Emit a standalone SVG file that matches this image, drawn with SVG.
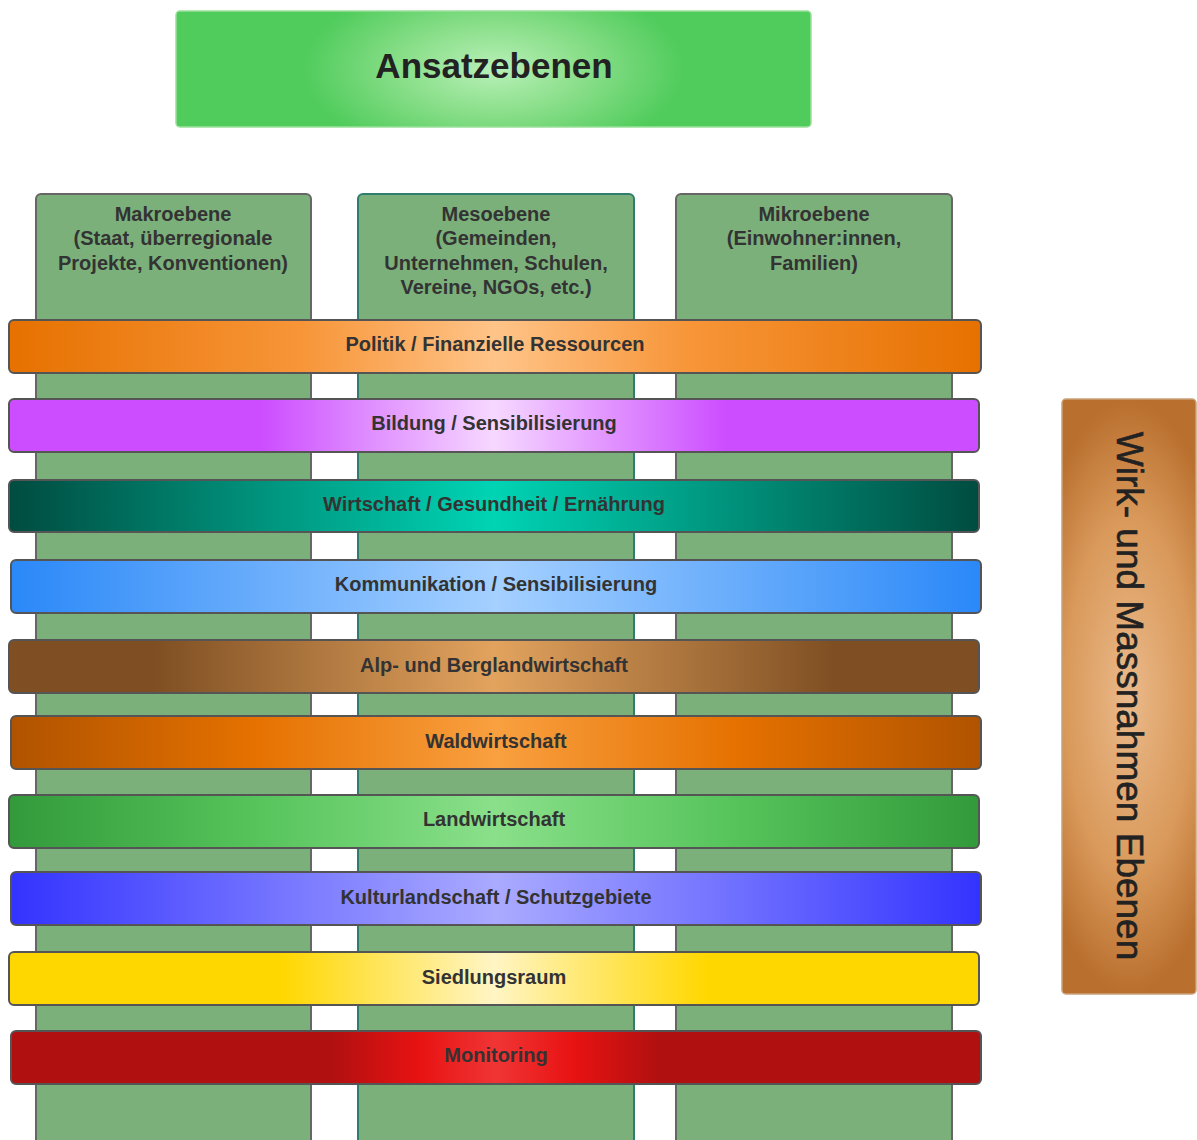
<svg xmlns="http://www.w3.org/2000/svg" width="1197" height="1140" viewBox="0 0 1197 1140">
<defs>
<style>
.col{fill:#7bb07b;stroke:#666;stroke-width:2}
.col2{fill:#7bb07b;stroke:#2e7d6e;stroke-width:2}
.band{stroke:#555;stroke-width:2}
.hd{font-family:"Liberation Sans",Arial,sans-serif;font-weight:bold;font-size:20px;fill:#333;text-anchor:middle}
.bt{font-family:"Liberation Sans",Arial,sans-serif;font-weight:bold;font-size:20px;fill:#333;text-anchor:middle}
</style>
<radialGradient id="gTop" cx="0.5" cy="0.5" r="0.5" gradientTransform="translate(0.5 0.5) scale(0.6 1.6) translate(-0.5 -0.5)">
<stop offset="0" stop-color="#b8f0b8"/><stop offset="0.5" stop-color="#88de88"/><stop offset="1" stop-color="#50cc5c"/>
</radialGradient>
<radialGradient id="gRight" cx="0.5" cy="0.5" r="0.5" gradientTransform="translate(0.5 0.5) scale(1.6 1) translate(-0.5 -0.5)">
<stop offset="0" stop-color="#eab98a"/><stop offset="0.6" stop-color="#d9995a"/><stop offset="1" stop-color="#b96f2e"/>
</radialGradient>
<linearGradient id="g1"><stop offset="0" stop-color="#e67100"/><stop offset="0.3" stop-color="#f79538"/><stop offset="0.5" stop-color="#ffc489"/><stop offset="0.7" stop-color="#f79538"/><stop offset="1" stop-color="#e67100"/></linearGradient>
<linearGradient id="g2"><stop offset="0" stop-color="#cc4dff"/><stop offset="0.26" stop-color="#cc4dff"/><stop offset="0.5" stop-color="#f6d8ff"/><stop offset="0.74" stop-color="#cc4dff"/><stop offset="1" stop-color="#cc4dff"/></linearGradient>
<linearGradient id="g3"><stop offset="0" stop-color="#004c40"/><stop offset="0.5" stop-color="#00d4b4"/><stop offset="1" stop-color="#004c40"/></linearGradient>
<linearGradient id="g4"><stop offset="0" stop-color="#2a88f8"/><stop offset="0.5" stop-color="#a5d0ff"/><stop offset="1" stop-color="#2a88f8"/></linearGradient>
<linearGradient id="g5"><stop offset="0" stop-color="#7f4f23"/><stop offset="0.15" stop-color="#7f4f23"/><stop offset="0.5" stop-color="#e2a35e"/><stop offset="0.85" stop-color="#7f4f23"/><stop offset="1" stop-color="#7f4f23"/></linearGradient>
<linearGradient id="g6"><stop offset="0" stop-color="#b05300"/><stop offset="0.25" stop-color="#e57100"/><stop offset="0.5" stop-color="#f9a040"/><stop offset="0.75" stop-color="#e57100"/><stop offset="1" stop-color="#b05300"/></linearGradient>
<linearGradient id="g7"><stop offset="0" stop-color="#339a3b"/><stop offset="0.25" stop-color="#55c35a"/><stop offset="0.5" stop-color="#8ae08a"/><stop offset="0.75" stop-color="#55c35a"/><stop offset="1" stop-color="#339a3b"/></linearGradient>
<linearGradient id="g8"><stop offset="0" stop-color="#3333ff"/><stop offset="0.5" stop-color="#aaaaff"/><stop offset="1" stop-color="#3333ff"/></linearGradient>
<linearGradient id="g9"><stop offset="0" stop-color="#ffd700"/><stop offset="0.28" stop-color="#ffd700"/><stop offset="0.5" stop-color="#fff5c4"/><stop offset="0.72" stop-color="#ffd700"/><stop offset="1" stop-color="#ffd700"/></linearGradient>
<linearGradient id="g10"><stop offset="0" stop-color="#b01010"/><stop offset="0.33" stop-color="#b01010"/><stop offset="0.42" stop-color="#e81212"/><stop offset="0.5" stop-color="#f03535"/><stop offset="0.58" stop-color="#e81212"/><stop offset="0.67" stop-color="#b01010"/><stop offset="1" stop-color="#b01010"/></linearGradient>
</defs>

<g id="title">
<rect x="176" y="11" width="635" height="116" rx="4" fill="url(#gTop)" stroke="#9be09b" stroke-width="1.5"/>
<text x="494" y="78" font-family="Liberation Sans,Arial,sans-serif" font-weight="bold" font-size="35" fill="#222" text-anchor="middle">Ansatzebenen</text>
</g>

<g id="col-makro">
<rect class="col" x="36" y="194" width="275" height="960" rx="5"/>
<text class="hd" x="173" y="221">Makroebene</text>
<text class="hd" x="173" y="245">(Staat, überregionale</text>
<text class="hd" x="173" y="270">Projekte, Konventionen)</text>
</g>
<g id="col-meso">
<rect class="col2" x="358" y="194" width="276" height="960" rx="5"/>
<text class="hd" x="496" y="221">Mesoebene</text>
<text class="hd" x="496" y="245">(Gemeinden,</text>
<text class="hd" x="496" y="270">Unternehmen, Schulen,</text>
<text class="hd" x="496" y="294">Vereine, NGOs, etc.)</text>
</g>
<g id="col-mikro">
<rect class="col" x="676" y="194" width="276" height="960" rx="5"/>
<text class="hd" x="814" y="221">Mikroebene</text>
<text class="hd" x="814" y="245">(Einwohner:innen,</text>
<text class="hd" x="814" y="270">Familien)</text>
</g>

<g id="connectors"></g>

<g id="band-politik"><rect class="band" x="9" y="320" width="972" height="53" rx="5" fill="url(#g1)"/><text class="bt" x="495" y="351">Politik / Finanzielle Ressourcen</text></g>
<g id="band-bildung"><rect class="band" x="9" y="399" width="970" height="53" rx="5" fill="url(#g2)"/><text class="bt" x="494" y="430">Bildung / Sensibilisierung</text></g>
<g id="band-wirtschaft"><rect class="band" x="9" y="480" width="970" height="52" rx="5" fill="url(#g3)"/><text class="bt" x="494" y="511">Wirtschaft / Gesundheit / Ernährung</text></g>
<g id="band-kommunikation"><rect class="band" x="11" y="560" width="970" height="53" rx="5" fill="url(#g4)"/><text class="bt" x="496" y="591">Kommunikation / Sensibilisierung</text></g>
<g id="band-alp"><rect class="band" x="9" y="640" width="970" height="53" rx="5" fill="url(#g5)"/><text class="bt" x="494" y="672">Alp- und Berglandwirtschaft</text></g>
<g id="band-wald"><rect class="band" x="11" y="716" width="970" height="53" rx="5" fill="url(#g6)"/><text class="bt" x="496" y="748">Waldwirtschaft</text></g>
<g id="band-land"><rect class="band" x="9" y="795" width="970" height="53" rx="5" fill="url(#g7)"/><text class="bt" x="494" y="826">Landwirtschaft</text></g>
<g id="band-kultur"><rect class="band" x="11" y="872" width="970" height="53" rx="5" fill="url(#g8)"/><text class="bt" x="496" y="904">Kulturlandschaft / Schutzgebiete</text></g>
<g id="band-siedlung"><rect class="band" x="9" y="952" width="970" height="53" rx="5" fill="url(#g9)"/><text class="bt" x="494" y="984">Siedlungsraum</text></g>
<g id="band-monitoring"><rect class="band" x="11" y="1031" width="970" height="53" rx="5" fill="url(#g10)"/><text class="bt" x="496" y="1062">Monitoring</text></g>

<g id="side">
<rect x="1062" y="399" width="134" height="595" rx="4" fill="url(#gRight)" stroke="#c9a27a" stroke-width="1.5"/>
<text transform="translate(1117 696) rotate(90)" x="0" y="0" font-family="Liberation Sans,Arial,sans-serif" font-size="37" fill="#222" stroke="#222" stroke-width="0.6" text-anchor="middle">Wirk- und Massnahmen Ebenen</text>
</g>
</svg>
